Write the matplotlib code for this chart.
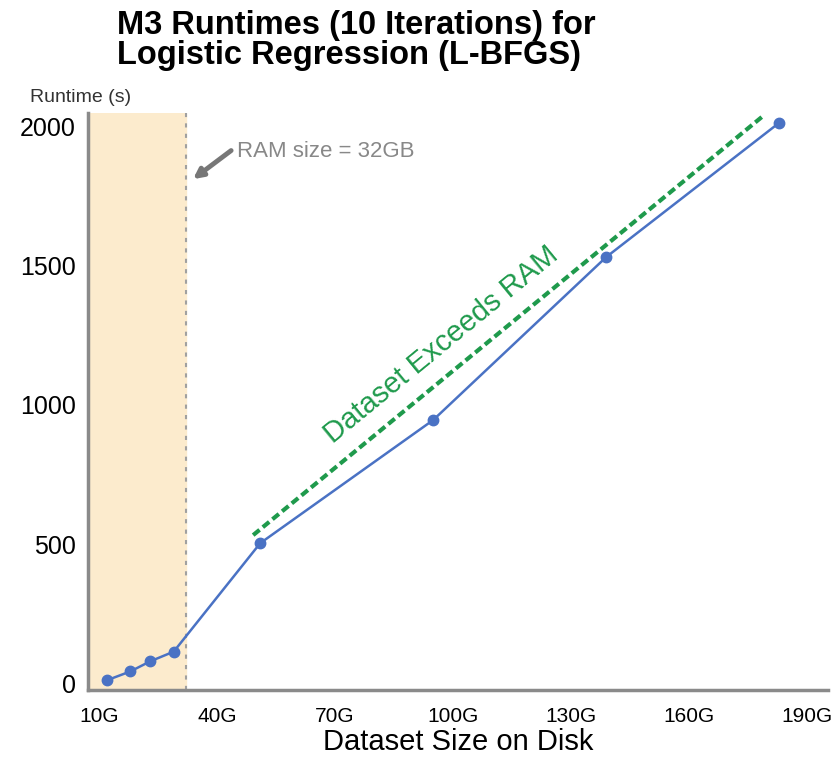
import matplotlib
matplotlib.use('Agg')
import matplotlib.pyplot as plt

plt.rcParams['font.family'] = ['Liberation Sans', 'DejaVu Sans']

# dataset size (GB) vs runtime (s)
size_gb = [12, 18, 23, 29, 51, 95, 139, 183]
runtime_s = [10, 42, 78, 113, 503, 946, 1532, 2015]

x_ticks = [10, 40, 70, 100, 130, 160, 190]
x_tick_labels = ['10G', '40G', '70G', '100G', '130G', '160G', '190G']
y_ticks = [0, 500, 1000, 1500, 2000]

ram_gb = 32
trend_x = [49.2, 178.6]
trend_y = [532, 2036]

fig = plt.figure(figsize=(8.35, 7.59), dpi=100)
ax = fig.add_axes([0.1054, 0.0909, 0.8862, 0.7602])

ax.axvspan(7.2, ram_gb, color='#fcebcd', zorder=0)
ax.axvline(ram_gb, color='#a0a0a0', lw=1.5, ls=(0, (2, 3)), zorder=1)

ax.plot(trend_x, trend_y, color='#1f9a4c', lw=3, ls=(0, (2, 1)), zorder=2)
ax.plot(size_gb, runtime_s, color='#4a72c4', lw=1.8, marker='o',
        markersize=7.5, zorder=3)

ax.text(97, 1216, 'Dataset Exceeds RAM', color='#1f9a4c', fontsize=21,
        rotation=39.4, rotation_mode='anchor', ha='center', va='center')

# arrow pointing at the RAM line, label next to it
ax.annotate('', xy=(33.9, 1812), xytext=(43.6, 1915),
            arrowprops=dict(arrowstyle='-|>', color='#777777', lw=3.5,
                            mutation_scale=14, shrinkA=0, shrinkB=0))
ax.text(45.1, 1912, 'RAM size = 32GB', fontsize=16, color='#888888',
        va='center', ha='left')

ax.set_xlim(7.2, 195.4)
ax.set_ylim(-25, 2050)
ax.set_xticks(x_ticks)
ax.set_xticklabels(x_tick_labels, fontsize=15)
ax.set_yticks(y_ticks)
ax.tick_params(axis='y', labelsize=18, length=0, pad=9)
ax.tick_params(axis='x', length=0, pad=12)

for side in ['top', 'right']:
    ax.spines[side].set_visible(False)
for side in ['left', 'bottom']:
    ax.spines[side].set_color('#8a8a8a')
    ax.spines[side].set_linewidth(2.5)

ax.set_xlabel('Dataset Size on Disk', fontsize=21, labelpad=2)

fig.text(0.14, 0.987, 'M3 Runtimes (10 Iterations) for\nLogistic Regression (L-BFGS)',
         fontsize=23.5, fontweight='bold', ha='left', va='top', linespacing=0.95)
fig.text(30 / 835, 1 - 97 / 759, 'Runtime (s)', fontsize=14, color='#333333',
         ha='left', va='center')

fig.savefig('out.png', dpi=100)
